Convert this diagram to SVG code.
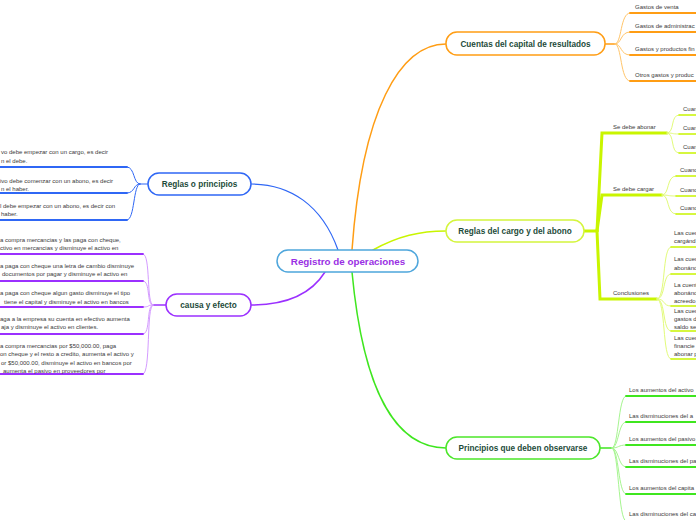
<svg xmlns="http://www.w3.org/2000/svg" width="696" height="520" viewBox="0 0 696 520">
<style>
.bg{fill:#ffffff}
.node{fill:#ffffff;stroke-width:1.5}
.nt{font-family:"Liberation Sans",Arial,sans-serif;font-weight:bold;font-size:8.2px;fill:#1d4b3a;text-anchor:middle}
.ct{font-family:"Liberation Sans",Arial,sans-serif;font-weight:bold;font-size:9.8px;fill:#9a2fe4;text-anchor:middle}
.lt{font-family:"Liberation Sans",Arial,sans-serif;font-size:6px;fill:#3a3a3a}
.c{fill:none;stroke-linecap:round}
.or{stroke:#ff9d14}
.orl{stroke:#ffc56a}
.bl{stroke:#2f67f5}
.pu{stroke:#9b30ff}
.pul{stroke:#d49bff}
.gr{stroke:#3fe61f}
.grl{stroke:#a6f590}
.yg{stroke:#c9f500}
.ygl{stroke:#e2fb7a}
</style>
<rect class="bg" x="0" y="0" width="696" height="520"/>
<g id="connectors">
<!-- center to main nodes -->
<path class="c or" stroke-width="1.5" d="M352,250 C362,110 400,44 446,44"/>
<path class="c yg" stroke-width="1.5" d="M373,250 C398,236 420,231 446,231"/>
<path class="c gr" stroke-width="1.5" d="M352,272 C364,400 400,448 446,448"/>
<path class="c bl" stroke-width="1.2" d="M338,250 C322,205 290,184 251,184"/>
<path class="c pu" stroke-width="1.5" d="M325,272 C310,296 282,305 251,305"/>

<!-- Cuentas leaves -->
<path class="c or" stroke-width="1.5" d="M605,44 L615,44"/>
<path class="c orl" stroke-width="1" d="M615,44 C622,44 620,13 630,13"/>
<path class="c orl" stroke-width="1" d="M615,44 C622,44 620,32 630,32"/>
<path class="c orl" stroke-width="1" d="M615,44 C622,44 620,55 630,55"/>
<path class="c orl" stroke-width="1" d="M615,44 C622,44 620,81 630,81"/>
<path class="c or" stroke-width="1.8" d="M630,13 L696,13 M630,32 L696,32 M630,55 L696,55 M630,81 L696,81"/>

<!-- Reglas del cargo spine -->
<path class="c yg" stroke-width="3" d="M584,231 L597,231"/>
<path class="c yg" stroke-width="3" d="M597,231 L602,133 L667,133"/>
<path class="c yg" stroke-width="3" d="M597,231 L602,195 L662,195"/>
<path class="c yg" stroke-width="3" d="M597,231 L600,299 L657,299"/>
<path class="c yg" stroke-width="1.8" d="M602,133 L667,133 M602,195 L662,195 M600,299 L657,299"/>
<!-- abonar leaves -->
<path class="c ygl" stroke-width="1" d="M667,133 C675,133 670,115 679,115 M667,133 C675,133 670,134 679,134 M667,133 C675,133 670,153 679,153"/>
<path class="c yg" stroke-width="1.5" d="M679,115 L696,115 M679,134 L696,134 M679,153 L696,153"/>
<!-- cargar leaves -->
<path class="c ygl" stroke-width="1" d="M662,195 C670,195 666,176 676,176 M662,195 C670,195 666,196 676,196 M662,195 C670,195 666,214 676,214"/>
<path class="c yg" stroke-width="1.5" d="M676,176 L696,176 M676,196 L696,196 M676,214 L696,214"/>
<!-- conclusiones leaves -->
<path class="c ygl" stroke-width="1" d="M657,299 C666,299 662,247 671,247 M657,299 C666,299 662,274 671,274 M657,299 C666,299 662,306 671,306 M657,299 C666,299 662,331 671,331 M657,299 C666,299 662,359 671,359"/>
<path class="c yg" stroke-width="1.5" d="M671,247 L696,247 M671,274 L696,274 M671,306 L696,306 M671,331 L696,331 M671,359 L696,359"/>

<!-- Principios leaves -->
<path class="c gr" stroke-width="1.5" d="M600,448 L612,448"/>
<path class="c grl" stroke-width="1" d="M612,448 C619,448 618,396 626,396 M612,448 C619,448 618,422 626,422 M612,448 C619,448 618,445 626,445 M612,448 C619,448 618,467 626,467 M612,448 C619,448 618,494 626,494 M612,448 C619,448 618,521 626,521"/>
<path class="c gr" stroke-width="1.8" d="M626,396 L696,396 M626,422 L696,422 M626,445 L696,445 M626,467 L696,467 M626,494 L696,494"/>

<!-- Reglas o principios leaves -->
<path class="c bl" stroke-width="1" d="M148,184 L140,184"/>
<path class="c bl" stroke-width="1" d="M140,184 C133,184 135,167 127,167 M140,184 C133,184 135,193 127,193 M140,184 C133,184 135,220 127,220"/>
<path class="c bl" stroke-width="1.8" d="M127,167 L0,167 M127,193 L0,193 M127,220 L0,220"/>

<!-- causa y efecto leaves -->
<path class="c pu" stroke-width="1.5" d="M166,305 L153,305"/>
<path class="c pul" stroke-width="1" d="M153,305 C146,305 151,254 143,254 M153,305 C146,305 151,281 143,281 M153,305 C146,305 151,307 143,307 M153,305 C146,305 151,334 143,334 M153,305 C146,305 151,374 143,374"/>
<path class="c pu" stroke-width="1.8" d="M143,254 L0,254 M143,281 L0,281 M143,307 L0,307 M143,334 L0,334 M143,374 L0,374"/>
</g>

<g id="node-center">
<rect class="node" x="277" y="250" width="141" height="22" rx="11" stroke="#4ea6dc"/>
<text class="ct" x="348" y="265">Registro de operaciones</text>
</g>
<g id="node-cuentas">
<rect class="node" x="446" y="32" width="159" height="23" rx="11" stroke="#ff9d14"/>
<text class="nt" x="525.5" y="46.5">Cuentas del capital de resultados</text>
</g>
<g id="node-reglas-cargo">
<rect class="node" x="446" y="220" width="138" height="22" rx="11" stroke="#d4f53c"/>
<text class="nt" x="515" y="234">Reglas del cargo y del abono</text>
</g>
<g id="node-principios">
<rect class="node" x="446" y="437" width="154" height="22" rx="11" stroke="#4ce62a"/>
<text class="nt" x="523" y="451">Principios que deben observarse</text>
</g>
<g id="node-reglas-principios">
<rect class="node" x="148" y="173" width="103" height="22" rx="11" stroke="#2f67f5"/>
<text class="nt" x="199.5" y="187">Reglas o principios</text>
</g>
<g id="node-causa">
<rect class="node" x="166" y="294" width="85" height="22" rx="11" stroke="#9b30ff"/>
<text class="nt" x="208.5" y="308">causa y efecto</text>
</g>

<g id="leaves-cuentas">
<text class="lt" x="635" y="9">Gastos de venta</text>
<text class="lt" x="635" y="28">Gastos de administrac</text>
<text class="lt" x="635" y="51">Gastos y productos fin</text>
<text class="lt" x="635" y="77">Otros gastos y produc</text>
</g>
<g id="leaves-reglas-cargo">
<text class="lt" x="613" y="129">Se debe abonar</text>
<text class="lt" x="683" y="111">Cuan</text>
<text class="lt" x="683" y="130">Cuan</text>
<text class="lt" x="683" y="149">Cuan</text>
<text class="lt" x="613" y="191">Se debe cargar</text>
<text class="lt" x="680" y="172">Cuand</text>
<text class="lt" x="680" y="192">Cuand</text>
<text class="lt" x="680" y="210">Cuand</text>
<text class="lt" x="613" y="295">Conclusiones</text>
<text class="lt" x="674" y="235">Las cuen</text>
<text class="lt" x="674" y="243">cargánd</text>
<text class="lt" x="674" y="261">Las cuen</text>
<text class="lt" x="674" y="270">abonánd</text>
<text class="lt" x="674" y="287">La cuent</text>
<text class="lt" x="674" y="295">abonánd</text>
<text class="lt" x="674" y="303">acreedo</text>
<text class="lt" x="674" y="313">Las cuen</text>
<text class="lt" x="674" y="321">gastos d</text>
<text class="lt" x="674" y="329">saldo se</text>
<text class="lt" x="674" y="340">Las cuen</text>
<text class="lt" x="674" y="348">financie</text>
<text class="lt" x="674" y="356">abonar p</text>
</g>
<g id="leaves-principios">
<text class="lt" x="629" y="392">Los aumentos del activo</text>
<text class="lt" x="629" y="418">Las disminuciones del a</text>
<text class="lt" x="629" y="441">Los aumentos del pasivo</text>
<text class="lt" x="629" y="463">Las disminuciones del pa</text>
<text class="lt" x="629" y="490">Los aumentos del capita</text>
<text class="lt" x="629" y="516">Las disminuciones del ca</text>
</g>
<g id="leaves-reglas-principios">
<text class="lt" x="1" y="154">vo debe empezar con un cargo, es decir</text>
<text class="lt" x="1" y="163">n el debe.</text>
<text class="lt" x="0" y="183">ivo debe comenzar con un abono, es decir</text>
<text class="lt" x="1" y="191">n el haber.</text>
<text class="lt" x="0" y="208">l debe empezar con un abono, es decir con</text>
<text class="lt" x="1" y="216">haber.</text>
</g>
<g id="leaves-causa">
<text class="lt" x="0" y="242">a compra mercancias y las paga con cheque,</text>
<text class="lt" x="0" y="250">ctivo en mercancias y disminuye el activo en</text>
<text class="lt" x="0" y="268">a paga con cheque una letra de cambio disminuye</text>
<text class="lt" x="2" y="276">documentos por pagar y disminuye el activo en</text>
<text class="lt" x="0" y="295">a paga con cheque algun gasto disminuye el tipo</text>
<text class="lt" x="4" y="304">tiene el capital y disminuye el activo en bancos</text>
<text class="lt" x="0" y="321">aga a la empresa su cuenta en efectivo aumenta</text>
<text class="lt" x="1" y="329">aja y disminuye el activo en clientes.</text>
<text class="lt" x="0" y="348">a compra mercancias por $50,000.00, paga</text>
<text class="lt" x="0" y="356">on cheque y el resto a credito, aumenta el activo y</text>
<text class="lt" x="1" y="365">or $50,000.00, disminuye el activo en bancos por</text>
<text class="lt" x="3" y="373">aumenta el pasivo en proveedores por</text>
</g>
</svg>
